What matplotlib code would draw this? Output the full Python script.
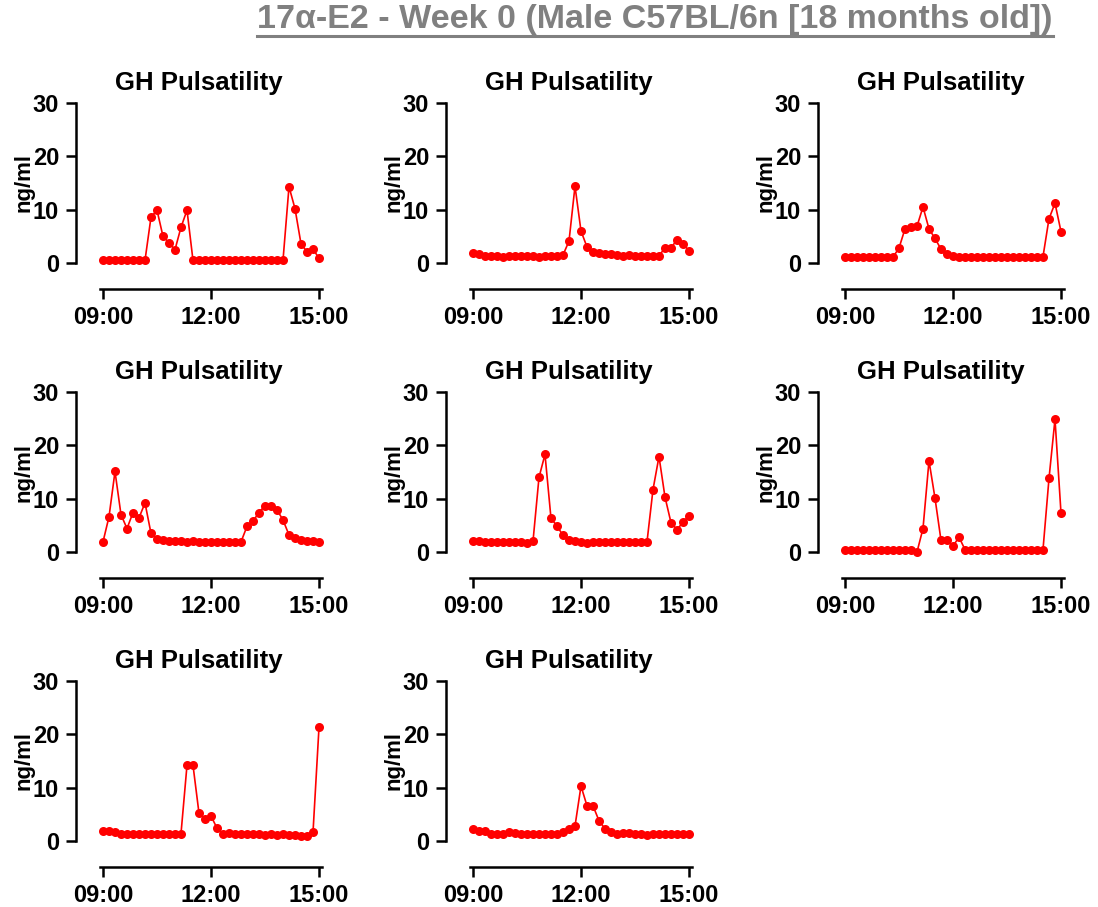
import numpy as np
import matplotlib
matplotlib.use("Agg")
import matplotlib.pyplot as plt
from matplotlib.lines import Line2D

plt.rcParams['font.family'] = ['Liberation Sans', 'DejaVu Sans']
plt.rcParams['font.weight'] = 'bold'

# sampling times in minutes after 09:00 (every 10 min)
minutes = np.arange(0, 361, 10)
tick_pos = [0, 180, 360]
tick_labels = ["09:00", "12:00", "15:00"]

# GH values (ng/ml), one list per mouse
mouse_1 = [0.5, 0.5, 0.5, 0.5, 0.5, 0.5, 0.5, 0.5, 8.6, 9.9, 5.0, 3.8, 2.5, 6.7, 9.9,
           0.5, 0.5, 0.5, 0.5, 0.5, 0.5, 0.5, 0.5, 0.5, 0.5, 0.5, 0.5, 0.5, 0.5, 0.5, 0.5,
           14.3, 10.2, 3.6, 2.1, 2.6, 0.9]
mouse_2 = [1.9, 1.6, 1.3, 1.3, 1.4, 1.2, 1.4, 1.3, 1.3, 1.3, 1.3, 1.2, 1.3, 1.4, 1.4, 1.5,
           4.1, 14.4, 6.0, 3.0, 2.0, 1.8, 1.6, 1.6, 1.5, 1.4, 1.5, 1.4, 1.4, 1.4, 1.4, 1.4,
           2.8, 2.8, 4.4, 3.6, 2.3]
mouse_3 = [1.1, 1.1, 1.1, 1.1, 1.1, 1.1, 1.1, 1.1, 1.1, 2.8, 6.4, 6.7, 6.9, 10.5, 6.4,
           4.6, 2.6, 1.6, 1.4, 1.2, 1.2, 1.2, 1.2, 1.2, 1.2, 1.2, 1.2, 1.2, 1.2, 1.2, 1.2,
           1.2, 1.2, 1.2, 8.3, 11.2, 5.9]
mouse_4 = [1.9, 6.6, 15.1, 7.0, 4.4, 7.4, 6.4, 9.2, 3.5, 2.4, 2.2, 2.1, 2.0, 2.0, 1.9,
           2.0, 1.9, 1.9, 1.9, 1.9, 1.9, 1.9, 1.9, 1.9, 4.8, 5.8, 7.4, 8.7, 8.7, 7.9, 6.0,
           3.2, 2.7, 2.2, 2.1, 2.0, 1.9]
mouse_5 = [2.0, 2.0, 1.9, 1.8, 1.8, 1.8, 1.8, 1.8, 1.8, 1.7, 2.0, 14.0, 18.3, 6.3, 4.9,
           3.1, 2.2, 2.0, 1.8, 1.7, 1.8, 1.8, 1.8, 1.8, 1.8, 1.8, 1.8, 1.8, 1.9, 1.9, 11.7,
           17.9, 10.3, 5.5, 4.2, 5.6, 6.8]
mouse_6 = [0.45, 0.45, 0.45, 0.45, 0.45, 0.45, 0.45, 0.45, 0.45, 0.45, 0.45, 0.45, 0.0,
           4.4, 17.1, 10.1, 2.2, 2.2, 1.1, 2.8, 0.45, 0.45, 0.45, 0.45, 0.45, 0.45, 0.45,
           0.45, 0.45, 0.45, 0.45, 0.45, 0.45, 0.45, 13.8, 24.9, 7.3]
mouse_7 = [1.8, 1.9, 1.6, 1.4, 1.3, 1.3, 1.3, 1.3, 1.3, 1.3, 1.3, 1.3, 1.3, 1.4, 14.2,
           14.2, 5.2, 4.2, 4.7, 2.4, 1.4, 1.5, 1.3, 1.3, 1.4, 1.4, 1.3, 1.2, 1.4, 1.2, 1.3,
           1.1, 1.1, 1.0, 0.9, 1.6, 21.3]
mouse_8 = [2.3, 1.9, 1.9, 1.4, 1.4, 1.4, 1.6, 1.5, 1.4, 1.3, 1.3, 1.3, 1.3, 1.4, 1.4,
           1.6, 2.2, 2.8, 10.3, 6.6, 6.6, 3.8, 2.3, 1.6, 1.4, 1.5, 1.5, 1.4, 1.3, 1.2, 1.3,
           1.4, 1.4, 1.3, 1.4, 1.4, 1.4]
mice = [mouse_1, mouse_2, mouse_3, mouse_4, mouse_5, mouse_6, mouse_7, mouse_8]

W, H = 1098, 907
fig = plt.figure(figsize=(W / 100, H / 100), dpi=100)

# panel geometry in pixels (09:00 tick, 15:00 tick, 30 tick, 0 tick)
x09 = [103, 473, 845]
x15 = [319, 689, 1061]
y30 = [103, 392, 681]
y00 = [263, 552, 841]
pad_min = 5

red = '#ff0000'
for i, vals in enumerate(mice):
    r, c = divmod(i, 3)
    ppm = (x15[c] - x09[c]) / 360.0
    left = x09[c] - pad_min * ppm
    right = x15[c] + pad_min * ppm
    ax = fig.add_axes([left / W, 1 - y00[r] / H, (right - left) / W, (y00[r] - y30[r]) / H])
    ax.plot(minutes, vals, color=red, lw=1.2, marker='o', ms=6.5, mew=0, clip_on=False)
    ax.set_xlim(-pad_min, 360 + pad_min)
    ax.set_ylim(0, 30)
    ax.set_yticks([0, 10, 20, 30])
    ax.set_xticks(tick_pos)
    ax.set_xticklabels(tick_labels)
    for s in ['top', 'right']:
        ax.spines[s].set_visible(False)
    ax.spines['left'].set_position(('outward', 17.5))
    ax.spines['bottom'].set_position(('outward', 18.7))
    for s in ['left', 'bottom']:
        ax.spines[s].set_linewidth(1.8)
    ax.tick_params(axis='both', length=7, width=1.8, labelsize=17, pad=5)
    for lab in ax.get_xticklabels() + ax.get_yticklabels():
        lab.set_fontweight('bold')
    spine_x = left - 24
    fig.text(((spine_x + right) / 2) / W, 1 - (y30[r] - 13) / H, "GH Pulsatility",
             ha='center', va='baseline', fontsize=18.5, fontweight='bold')
    fig.text((spine_x - 52) / W, 1 - ((y30[r] + y00[r]) / 2) / H, "ng/ml",
             ha='center', va='center', rotation=90, fontsize=16, fontweight='bold')

# main title, grey and underlined
title = fig.text(655 / W, 1 - 4 / H, "17α-E2 - Week 0 (Male C57BL/6n [18 months old])",
                 ha='center', va='top', fontsize=24.5, fontweight='bold', color='#808080')
fig.canvas.draw()
bb = title.get_window_extent()
uy = (bb.y0 - 1) / H
fig.add_artist(Line2D([bb.x0 / W, bb.x1 / W], [uy, uy], color='#808080', lw=2.2))

fig.savefig("out.png", dpi=100)
